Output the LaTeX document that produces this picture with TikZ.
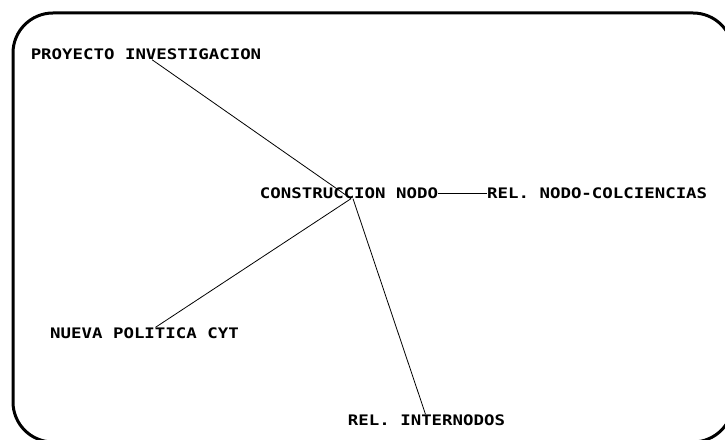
\documentclass[tikz,border=0pt]{standalone}
\usepackage{fontspec}
\newfontfamily\labelfont{DejaVu Sans Mono}[FakeStretch=1.2]

\begin{document}
\begin{tikzpicture}[x=1pt,y=1pt,
		etiqueta/.style={inner sep=0pt,font=\labelfont\bfseries\fontsize{14.5}{16}\selectfont},
		enlace/.style={draw=black,line width=0.8pt}]

		\useasboundingbox (0,0) rectangle (725,439);
		\draw[line width=3pt,rounded corners=40pt] (13,426) rectangle (733,-3);

		\node[etiqueta] (proyecto) at (146,385) {PROYECTO INVESTIGACION};
		\node[etiqueta] (nodo) at (349,246) {CONSTRUCCION NODO};
		\node[etiqueta,anchor=west] (colciencias) at (487,246) {REL. NODO-COLCIENCIAS};
		\node[etiqueta] (politica) at (144.5,106) {NUEVA POLITICA CYT};
		\node[etiqueta] (internodos) at (426.5,19) {REL. INTERNODOS};

		\draw[enlace] ([xshift=6pt]proyecto.south) -- ([xshift=2pt]nodo.south);
		\draw[enlace] (nodo.east) -- (colciencias.west);
		\draw[enlace] ([xshift=11pt]politica.north) -- ([xshift=2pt]nodo.south);
		\draw[enlace] ([xshift=-1pt]internodos.north) -- ([xshift=4pt]nodo.south);

\end{tikzpicture}
\end{document}
